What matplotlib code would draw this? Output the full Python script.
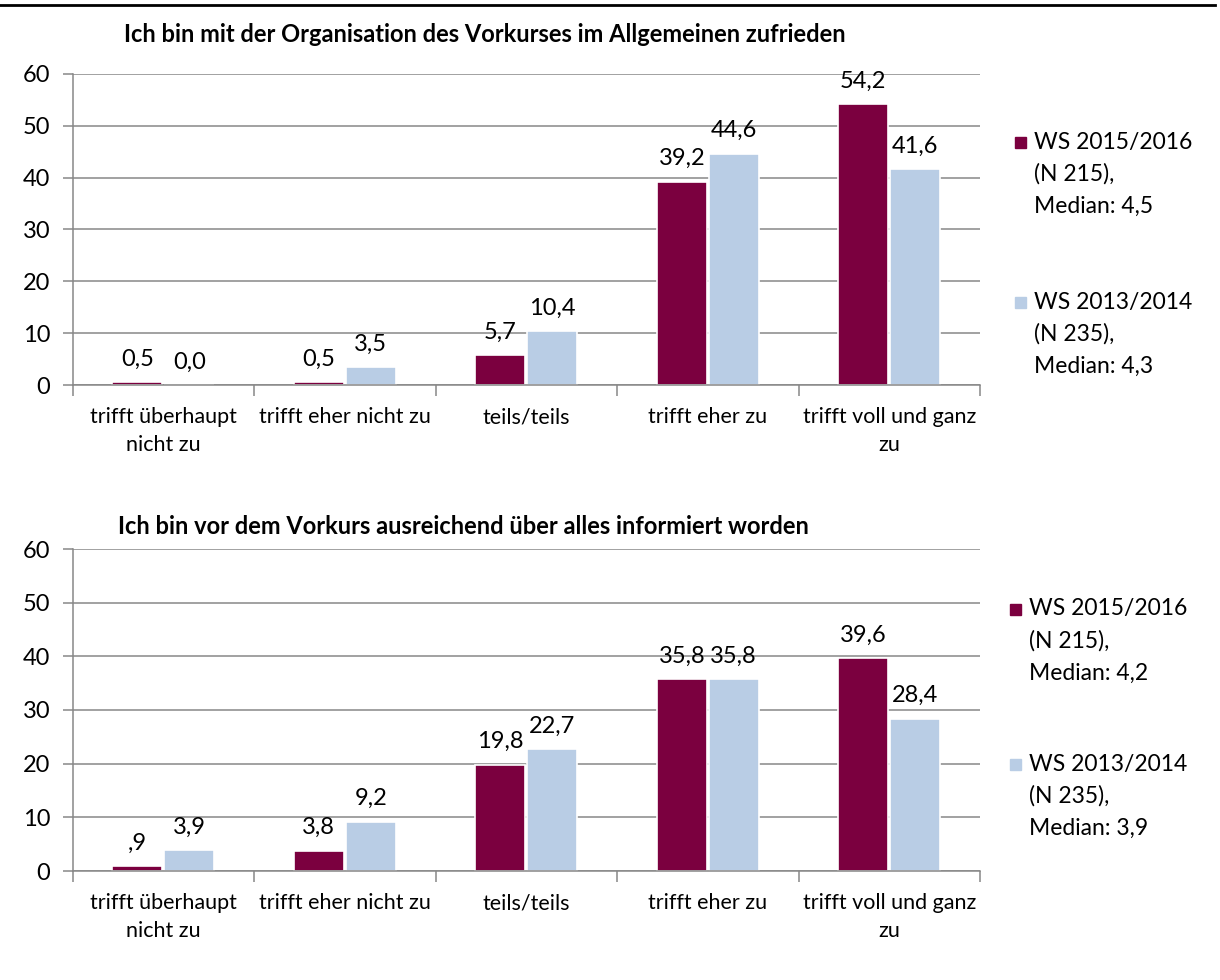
#Grouped bar charts - Vorkurs evaluation

import numpy as np
import matplotlib.pyplot as plt
from matplotlib.lines import Line2D
from matplotlib.patches import Rectangle

plt.rcParams['font.family'] = ['Lato', 'DejaVu Sans']

#data
categories = ['trifft überhaupt\nnicht zu', 'trifft eher nicht zu', 'teils/teils',
              'trifft eher zu', 'trifft voll und ganz\nzu']

title_1 = 'Ich bin mit der Organisation des Vorkurses im Allgemeinen zufrieden'
ws1516_1 = [0.5, 0.5, 5.7, 39.2, 54.2]
ws1314_1 = [0.0, 3.5, 10.4, 44.6, 41.6]
labels1516_1 = ['0,5', '0,5', '5,7', '39,2', '54,2']
labels1314_1 = ['0,0', '3,5', '10,4', '44,6', '41,6']
legend_1 = [['WS 2015/2016', '(N 215),', 'Median: 4,5'],
            ['WS 2013/2014', '(N 235),', 'Median: 4,3']]

title_2 = 'Ich bin vor dem Vorkurs ausreichend über alles informiert worden'
ws1516_2 = [0.9, 3.8, 19.8, 35.8, 39.6]
ws1314_2 = [3.9, 9.2, 22.7, 35.8, 28.4]
labels1516_2 = [',9', '3,8', '19,8', '35,8', '39,6']
labels1314_2 = ['3,9', '9,2', '22,7', '35,8', '28,4']
legend_2 = [['WS 2015/2016', '(N 215),', 'Median: 4,2'],
            ['WS 2013/2014', '(N 235),', 'Median: 3,9']]

yticks = [0, 10, 20, 30, 40, 50, 60]

red = '#7B003F'
blue = '#B9CDE5'
grey = '#878787'

W, H = 1220, 980
fig = plt.figure(figsize=(W / 100, H / 100), dpi=100)

def fx(px):
    return px / W

def fy(py):
    return 1 - py / H

#top rule
fig.add_artist(Line2D([0, fx(1215)], [fy(5), fy(5)], color='black', lw=2))

def draw_chart(top, bottom, title, title_x, title_y, v1, v2, l1, l2, legend, leg_y, leg_x):
    ax = fig.add_axes([fx(72.5), fy(bottom), fx(980) - fx(72.5), fy(top) - fy(bottom)])
    x = np.arange(len(categories))
    w = 0.275
    off = 0.143
    ax.bar(x - off, v1, w, color=red, edgecolor='white', lw=1.2)
    ax.bar(x + off, v2, w, color=blue, edgecolor='white', lw=1.2)
    for xi, v, s in zip(x - off, v1, l1):
        ax.annotate(s, (xi, v), xytext=(0, 9), textcoords='offset points',
                    ha='center', va='bottom', fontsize=17)
    for xi, v, s in zip(x + off, v2, l2):
        ax.annotate(s, (xi, v), xytext=(0, 9), textcoords='offset points',
                    ha='center', va='bottom', fontsize=17)
    ax.set_xlim(-0.5, len(categories) - 0.5)
    ax.set_ylim(0, 60)
    ax.set_yticks(yticks)
    ax.tick_params(axis='y', length=7, width=1.1, color=grey, labelsize=17, pad=9)
    ax.set_xticks(np.arange(len(categories) + 1) - 0.5)
    ax.set_xticklabels([])
    ax.tick_params(axis='x', which='major', length=8, width=1.1, color=grey)
    ax.set_xticks(x, categories, minor=True)
    ax.tick_params(axis='x', which='minor', length=0, labelsize=15.5, pad=16)
    for t in ax.get_xticklabels(minor=True):
        t.set_linespacing(1.5)
    ax.yaxis.grid(True, color=grey, lw=1.1)
    ax.set_axisbelow(True)
    for s in ['top', 'right']:
        ax.spines[s].set_visible(False)
    for s in ['left', 'bottom']:
        ax.spines[s].set_color(grey)
        ax.spines[s].set_linewidth(1.1)
    fig.text(fx(title_x), fy(title_y), title, ha='center', va='center',
             fontsize=17, fontweight='bold')
    #legend
    for lines, col, ly in zip(legend, [red, blue], leg_y):
        fig.patches.append(Rectangle((fx(leg_x - 19), fy(ly + 6)), fx(11), fy(0) - fy(11),
                                     color=col, transform=fig.transFigure))
        for i, s in enumerate(lines):
            fig.text(fx(leg_x), fy(ly + 32 * i), s, ha='left', va='center', fontsize=16.5)
    return ax

draw_chart(74, 385, title_1, 485, 35, ws1516_1, ws1314_1, labels1516_1, labels1314_1,
           legend_1, [142, 302], 1034)
draw_chart(549, 871, title_2, 463, 527, ws1516_2, ws1314_2, labels1516_2, labels1314_2,
           legend_2, [609, 764], 1029)

plt.savefig('out.png', dpi=100)
